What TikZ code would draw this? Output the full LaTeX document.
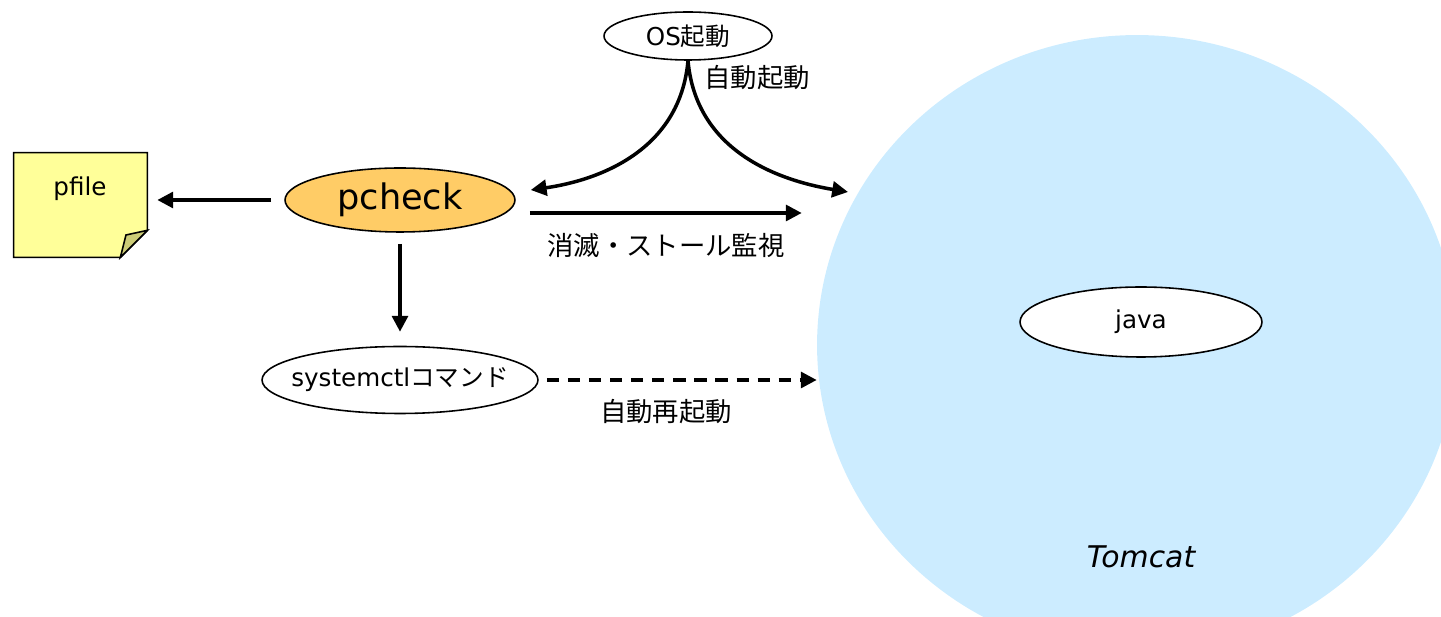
\documentclass[tikz,border=0pt]{standalone}
\usepackage{fontspec}
\setmainfont{DejaVu Sans}
\newfontfamily\jp{Noto Sans CJK JP}
\usetikzlibrary{shapes.geometric,arrows.meta,positioning}

\definecolor{notefill}{HTML}{FFFF99}
\definecolor{notefold}{HTML}{CCCC77}
\definecolor{procfill}{HTML}{FFCC66}
\definecolor{tomcatfill}{HTML}{CCECFF}

\begin{document}
\begin{tikzpicture}[x=0.02cm, y=-0.02cm,
    proc/.style={draw, ellipse, line width=0.9pt, inner xsep=-1cm, inner ysep=0pt, fill=white,
                 font=\fontsize{14}{16}\selectfont},
    arr/.style={line width=2pt, -{Triangle[length=9pt,width=9pt]}},
    lbl/.style={font=\jp\fontsize{15}{17}\selectfont}]
    \useasboundingbox (0,0) rectangle (1441,617);

    % tomcat process area
    \begin{scope}
        \clip (0,0) rectangle (1441,617);
        \node[ellipse, fill=tomcatfill, inner sep=0pt,
              minimum width=12.8cm, minimum height=12.4cm] (tomcat) at (1137,345) {};
    \end{scope}
    \node[font=\itshape\fontsize{17}{20}\selectfont] (tomcatname) at (1141,557) {Tomcat};
    \node[proc, minimum width=4.84cm, minimum height=1.4cm] (java) at (1141,322) {java};

    % the others
    \node[proc, fill=procfill, minimum width=4.6cm, minimum height=1.28cm,
          font=\fontsize{20}{24}\selectfont] (pcheck) at (400,200) {pcheck};
    \node[proc, minimum width=3.36cm, minimum height=0.96cm] (os) at (688,36) {OS{\jp 起動}};
    \node[proc, minimum width=5.52cm, minimum height=1.34cm] (systemctl) at (400,380) {systemctl{\jp コマンド}};

    % pfile note
    \node[minimum width=2.66cm, minimum height=2.08cm, inner sep=0pt] (pfile) at (80.5,205) {};
    \draw[line width=0.9pt, fill=notefill] (pfile.north west) -- (pfile.north east)
        -- ([yshift=0.54cm]pfile.south east) -- ([xshift=-0.54cm]pfile.south east)
        -- (pfile.south west) -- cycle;
    \draw[line width=0.9pt, fill=notefold] ([yshift=0.54cm]pfile.south east)
        -- (126,235) -- ([xshift=-0.54cm]pfile.south east) -- cycle;
    \node[font=\fontsize{14}{16}\selectfont] (pfilename) at (80,189) {pfile};

    % connectors
    \coordinate (boot) at (848,192);
    \draw[arr, shorten <=0.26cm, shorten >=0.2cm] (pcheck.west) -- (pcheck.west -| pfile.east);
    \draw[arr, shorten <=0.22cm, shorten >=0.28cm] (pcheck.south) -- (systemctl.north);
    \draw[arr, shorten <=0.28cm, shorten >=0.3cm] ([yshift=-0.26cm]pcheck.east)
        -- ([yshift=-0.26cm]pcheck.east -| tomcat.west);
    \draw[arr, dashed, dash pattern=on 7pt off 5pt, shorten <=0.16cm]
        (systemctl.east) -- (systemctl.east -| tomcat.west);
    \draw[arr] (os.south) .. controls (680,150) and (600,180) .. ([shift={(15,-10)}]pcheck.east);
    \draw[arr] (os.south) .. controls (696,150) and (776,180) .. (boot);
    \node[lbl] (autoboot) at (757,78) {自動起動};
    \node[lbl] (watch) at (666,246) {消滅・ストール監視};
    \node[lbl] (restart) at (666,412) {自動再起動};
\end{tikzpicture}
\end{document}
